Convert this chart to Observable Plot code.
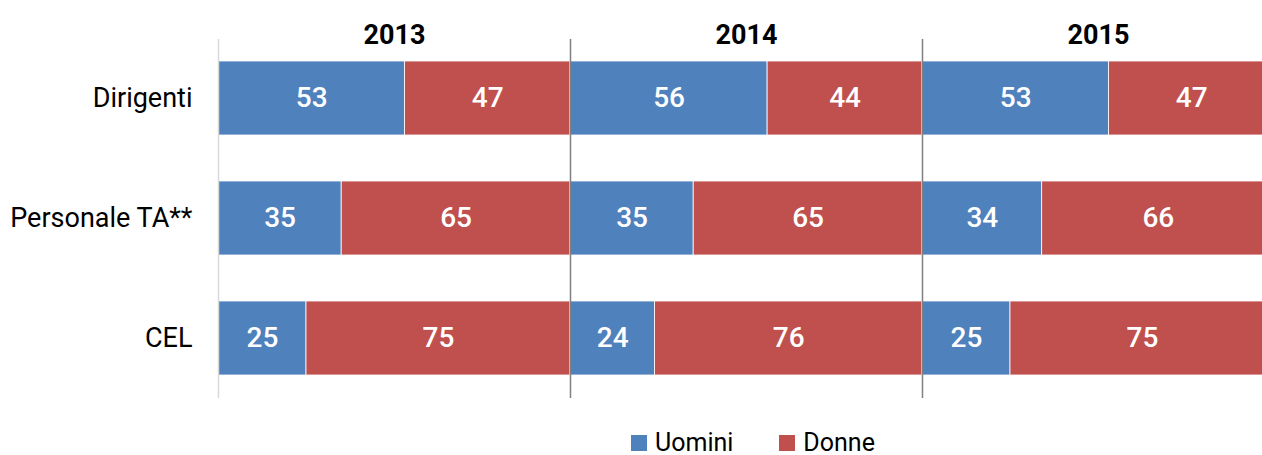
<!DOCTYPE html>
<html>
<head>
<meta charset="utf-8">
<script src="https://cdn.jsdelivr.net/npm/d3@7"></script>
<script src="https://cdn.jsdelivr.net/npm/@observablehq/plot@0.6"></script>
<style>
  html, body { margin: 0; padding: 0; background: #fff; overflow: hidden; width: 1262px; height: 455px; }
  body { position: relative; font-family: Roboto, "DejaVu Sans", sans-serif; }
  #chart svg { max-width: none !important; display: block; }
  #legend { position: absolute; top: 433px; left: 631px; display: flex; align-items: center; font-size: 25px; line-height: 20px; height: 20px; color: #000; white-space: nowrap; }
  #legend .item { display: flex; align-items: center; }
  #legend .sw { width: 16px; height: 16px; display: inline-block; margin-right: 8px; }
</style>
</head>
<body>
<div id="chart"></div>
<div id="legend"></div>
<script>
const categories = ["Dirigenti", "Personale TA**", "CEL"];
const years = ["2013", "2014", "2015"];
const series = ["Uomini", "Donne"];
const colors = ["#4F81BD", "#C0504D"];
// values per year, in category order
const uomini = {"2013": [53, 35, 25], "2014": [56, 35, 24], "2015": [53, 34, 25]};
const donne  = {"2013": [47, 65, 75], "2014": [44, 65, 76], "2015": [47, 66, 75]};

const data = [];
for (const y of years) {
  categories.forEach((c, i) => {
    data.push({year: y, cat: c, sex: "Uomini", value: uomini[y][i]});
    data.push({year: y, cat: c, sex: "Donne", value: donne[y][i]});
  });
}
const rules = years.map((y, i) => ({year: y, color: i === 0 ? "#d9d9d9" : "#808080"}));

const chart = Plot.plot({
  width: 1274,
  height: 415,
  marginLeft: 218,
  marginRight: 0,
  marginTop: 39,
  marginBottom: 17,
  style: {fontFamily: "Roboto, sans-serif", background: "white"},
  fx: {domain: years, padding: 0, axis: null},
  x: {domain: [0, 100], axis: null},
  y: {domain: categories, paddingInner: 0.383, paddingOuter: 0.187, label: null},
  color: {domain: series, range: colors},
  marks: [
    Plot.barX(data, Plot.stackX({x: "value", y: "cat", fx: "year", z: "sex", fill: "sex", stroke: "white", strokeWidth: 0.8, order: null})),
    Plot.text(data, Plot.stackX({x: "value", y: "cat", fx: "year", z: "sex", text: d => String(d.value), fill: "white", fontSize: 28, fontWeight: 500, order: null})),
    Plot.ruleX(rules, {x: 0, fx: "year", stroke: "color", strokeWidth: 1.5}),
    Plot.text(years, {fx: d => d, text: d => d, frameAnchor: "top", lineAnchor: "top", dy: -15, fontSize: 27, fontWeight: 700, fill: "black"}),
    Plot.axisY({facetAnchor: "left", tickSize: 0, tickPadding: 26, fontSize: 27, color: "black", label: null})
  ]
});
document.getElementById("chart").appendChild(chart);

const legend = document.getElementById("legend");
series.forEach((s, i) => {
  const item = document.createElement("span");
  item.className = "item";
  item.style.marginRight = i === 0 ? "46px" : "0";
  const sw = document.createElement("span");
  sw.className = "sw";
  sw.style.background = colors[i];
  item.appendChild(sw);
  item.appendChild(document.createTextNode(s));
  legend.appendChild(item);
});
</script>
</body>
</html>
